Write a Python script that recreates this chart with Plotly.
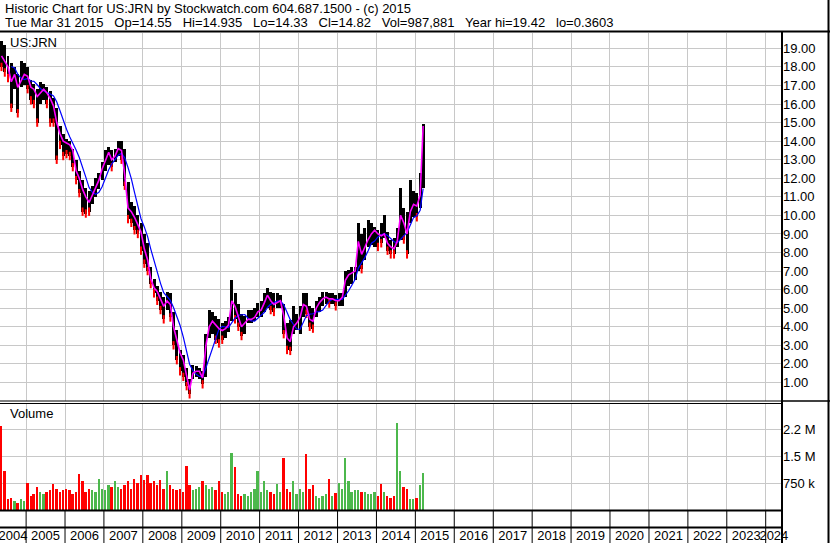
import pandas as pd
import plotly.graph_objects as go

# ---------------- data (monthly, May 2004 .. Mar 2015) ----------------
MONTH_START = "2004-05-01"
MONTH_END = "2015-03-01"

HIGH = [19.42, 19.2, 18.6, 18.2, 18.0, 17.6, 18.3, 18.2,
        18.0, 17.3, 17.1, 16.8, 17.2, 17.1, 16.9, 16.7, 16.3, 15.8, 14.8, 14.4,
        14.1, 14.0, 13.6, 13.0, 12.4, 11.9, 11.5, 11.3, 11.6, 12.0, 12.3, 12.9,
        13.5, 13.7, 13.5, 13.6, 14.0, 14.0, 13.6, 11.8, 10.7, 10.5, 10.0, 9.6,
        9.0, 8.5, 7.2, 6.6, 6.2, 5.9, 5.6, 5.9, 5.8, 4.8, 3.8, 2.75,
        2.5, 1.8, 1.2, 1.95, 1.9, 1.8, 1.6, 3.6, 4.9, 4.8, 4.6, 4.4,
        4.2, 4.3, 4.5, 6.5, 5.8, 5.2, 4.7, 4.6, 4.9, 4.9, 5.0, 5.3,
        5.4, 5.8, 6.1, 5.9, 5.8, 5.8, 5.7, 5.2, 4.2, 4.35, 5.1, 4.7,
        5.1, 5.8, 5.8, 5.1, 5.0, 5.4, 5.6, 5.9, 5.9, 5.8, 5.8, 5.7,
        5.8, 5.8, 7.0, 7.05, 7.2, 7.2, 9.6, 9.0, 9.3, 9.75, 9.6, 9.4,
        9.2, 9.6, 10.0, 9.1, 8.7, 8.8, 9.3, 11.5, 10.4, 10.2, 11.9, 11.3,
        11.2, 12.3, 14.935]

LOW = [18.0, 17.7, 17.4, 15.8, 16.8, 15.5, 16.9, 17.0,
       16.8, 16.2, 16.0, 15.0, 16.0, 16.2, 16.0, 15.0, 15.0, 13.0, 13.8, 13.2,
       13.3, 13.2, 12.6, 11.9, 11.2, 10.2, 10.1, 10.2, 10.6, 11.0, 11.4, 11.9,
       12.4, 12.7, 12.6, 12.9, 13.2, 13.0, 11.6, 9.8, 9.6, 9.2, 9.0, 8.1,
       7.4, 7.0, 6.3, 5.8, 5.4, 4.9, 4.4, 4.9, 4.5, 3.0, 2.2, 1.6,
       1.3, 0.8, 0.36, 1.2, 1.3, 1.2, 0.9, 1.3, 3.4, 3.6, 3.3, 3.1,
       3.3, 3.4, 3.7, 4.3, 4.4, 4.0, 3.5, 3.6, 4.2, 4.2, 4.3, 4.5,
       4.5, 4.8, 5.0, 4.9, 4.8, 5.0, 5.0, 3.6, 2.75, 2.7, 3.6, 3.8,
       3.6, 4.5, 4.7, 4.0, 3.9, 4.5, 4.8, 5.1, 5.2, 5.25, 5.25, 5.1,
       5.1, 5.1, 5.6, 6.2, 6.3, 6.5, 7.0, 7.1, 7.6, 8.3, 8.4, 8.3,
       8.3, 8.5, 8.8, 8.1, 7.9, 7.9, 8.3, 8.7, 8.7, 7.9, 9.6, 9.9,
       9.9, 10.4, 11.5]

CLOSE = [18.6, 18.3, 18.0, 17.2, 17.6, 16.9, 17.3, 17.6,
         17.5, 16.9, 16.8, 16.4, 16.6, 16.8, 16.6, 16.3, 15.9, 15.0, 14.4, 14.0,
         13.9, 13.8, 13.5, 12.4, 12.0, 11.4, 11.0, 10.7, 11.1, 11.5, 11.9, 12.5,
         13.0, 13.4, 13.0, 13.2, 13.6, 13.5, 12.2, 10.4, 10.2, 9.9, 9.5, 9.1,
         8.2, 7.6, 6.6, 6.1, 5.9, 5.5, 5.1, 5.4, 5.2, 4.0, 3.2, 2.6,
         2.2, 1.3, 0.6, 1.5, 1.6, 1.6, 1.25, 3.0, 4.0, 4.3, 4.1, 3.9,
         3.8, 3.9, 4.1, 5.4, 5.1, 4.6, 4.0, 4.2, 4.4, 4.4, 4.5, 4.8,
         4.9, 5.3, 5.7, 5.4, 5.2, 5.3, 5.4, 4.6, 3.4, 3.2, 4.0, 4.2,
         4.5, 5.2, 5.1, 4.4, 4.3, 5.0, 5.3, 5.5, 5.6, 5.5, 5.5, 5.4,
         5.4, 5.6, 6.5, 6.8, 6.9, 7.0, 8.6, 7.9, 8.3, 8.7, 9.0, 9.2,
         9.0, 8.9, 9.0, 8.5, 8.3, 8.2, 8.6, 10.0, 9.6, 9.0, 10.2, 10.6,
         10.5, 11.1, 14.82]

VOLUME_M = [2.36, 1.1, 0.3, 0.35, 0.25, 0.2, 0.3, 0.25,
            0.75, 0.4, 0.45, 0.65, 0.5, 0.45, 0.5, 0.55, 0.72, 0.6, 0.5, 0.55,
            0.6, 0.55, 0.45, 0.5, 1.0, 0.8, 0.5, 0.6, 0.55, 0.5, 0.88, 0.6,
            0.55, 0.7, 0.65, 0.8, 0.65, 0.6, 0.7, 0.8, 0.6, 0.88, 0.75, 0.97,
            0.85, 0.98, 0.75, 0.8, 0.7, 0.85, 0.6, 1.08, 0.7, 0.6, 0.55, 0.6,
            0.5, 1.22, 0.7, 0.55, 0.6, 0.65, 0.8, 0.7, 0.6, 0.65, 0.55, 0.8,
            0.5, 0.45, 0.5, 1.6, 1.2, 0.45, 0.4, 0.45, 0.4, 0.5, 0.6, 1.1,
            0.5, 0.8, 0.55, 0.5, 0.45, 0.72, 0.5, 1.45, 0.6, 0.5, 0.8, 0.45,
            0.6, 0.5, 1.56, 0.6, 0.7, 0.4, 0.35, 0.4, 0.45, 0.87, 0.4, 0.47,
            0.75, 0.6, 1.46, 0.8, 0.5, 0.55, 0.55, 0.5, 0.5, 0.45, 0.45, 0.5,
            0.4, 0.72, 0.5, 0.4, 0.35, 0.4, 2.44, 1.1, 0.65, 0.6, 0.3, 0.3,
            0.35, 0.7, 1.04]

PRICE_TICKS = list(range(1, 20))
PRICE_TICK_TEXT = [f"{v:.2f}" for v in PRICE_TICKS]
VOL_TICKS = [750000, 1500000, 2250000]
VOL_TICK_TEXT = ["750 k", "1.5 M", "2.2 M"]
YEARS = list(range(2004, 2025))

SP = "\u00a0\u00a0 "
HEADER_1 = "Historic Chart for US:JRN by Stockwatch.com 604.687.1500 - (c) 2015"
HEADER_2 = SP.join(["Tue Mar 31 2015", "Op=14.55", "Hi=14.935", "Lo=14.33",
                    "Cl=14.82", "Vol=987,881", "Year hi=19.42", "lo=0.3603"])
SYMBOL = "US:JRN"

# ---------------- derived ----------------
months = pd.date_range(MONTH_START, MONTH_END, freq="MS")
dates = months + pd.Timedelta(days=14)
close_s = pd.Series(CLOSE)
ma_slow = close_s.rolling(5, min_periods=4).mean()
prev_close = close_s.shift(1)
up = [(p == p) and c >= p for c, p in zip(CLOSE, prev_close)]
vol = [v * 1e6 for v in VOLUME_M]
vol_colors = ["#4cb84c" if u else "#ff0000" for u in up]
down_dates = [d for d, u in zip(dates, up) if not u]
down_lows = [l for l, u in zip(LOW, up) if not u]

x_start = pd.Timestamp("2004-05-01")
x_end = pd.Timestamp("2024-06-02")
year_bounds = [pd.Timestamp(f"{y}-01-01") for y in YEARS[1:]]
label_pos = []
for y in YEARS:
    a = max(pd.Timestamp(f"{y}-01-01"), x_start)
    b = min(pd.Timestamp(f"{y + 1}-01-01"), x_end)
    label_pos.append(a + (b - a) / 2)

DAY_MS = 86400000

# ---------------- figure ----------------
W, H = 830, 543
M_L, M_R, M_T, M_B = 0, 48, 33, 33
PH = H - M_T - M_B  # 477


def py(px):  # pixel row -> paper y
    return (H - M_B - px) / PH


def pxx(px):  # pixel column -> paper x
    return (px - M_L) / (W - M_L - M_R)


fig = go.Figure()

fig.add_trace(go.Bar(
    x=dates, y=[h - l for h, l in zip(HIGH, LOW)], base=LOW,
    width=28 * DAY_MS, marker=dict(color="black", line=dict(width=0)),
    xaxis="x", yaxis="y", hoverinfo="skip", showlegend=False))

fig.add_trace(go.Scatter(
    x=down_dates, y=down_lows, mode="markers",
    marker=dict(symbol="line-ns", size=6, line=dict(color="#ff0000", width=2)),
    xaxis="x", yaxis="y", hoverinfo="skip", showlegend=False))

fig.add_trace(go.Scatter(
    x=dates, y=ma_slow, mode="lines", line=dict(color="#0000ff", width=1.2),
    xaxis="x", yaxis="y", hoverinfo="skip", showlegend=False))

fig.add_trace(go.Scatter(
    x=dates, y=CLOSE, mode="lines", line=dict(color="#ff00ff", width=1.6),
    xaxis="x", yaxis="y", hoverinfo="skip", showlegend=False))

fig.add_trace(go.Bar(
    x=dates, y=vol, width=17 * DAY_MS,
    marker=dict(color=vol_colors, line=dict(width=0)),
    xaxis="x", yaxis="y2", hoverinfo="skip", showlegend=False))

GRID = "#c8c8c8"
FONT = "Liberation Sans, Arial, sans-serif"

fig.update_layout(
    width=W, height=H,
    margin=dict(l=M_L, r=M_R, t=M_T, b=M_B, autoexpand=False),
    paper_bgcolor="white", plot_bgcolor="white",
    barmode="overlay", bargap=0,
    font=dict(family=FONT, size=13, color="black"),
    xaxis=dict(
        type="date", range=[x_start, x_end], anchor="y2",
        tickmode="array", tickvals=label_pos, ticktext=[str(y) for y in YEARS],
        ticks="outside", ticklen=13, tickcolor="rgba(0,0,0,0)", tickangle=0,
        ticklabeloverflow="allow",
        showgrid=False, zeroline=False, showline=False,
        tickfont=dict(size=13, color="black"),
        minor=dict(tickmode="array", tickvals=year_bounds, ticks="",
                   showgrid=True, gridcolor=GRID, gridwidth=1),
    ),
    yaxis=dict(
        domain=[py(401), 1], range=[0, (401 - 33) / 18.56], side="right",
        anchor="x", tickmode="array", tickvals=PRICE_TICKS, ticktext=PRICE_TICK_TEXT,
        ticks="", showgrid=True, gridcolor=GRID, gridwidth=1, zeroline=False,
        showline=False, tickfont=dict(size=13, color="black"),
    ),
    yaxis2=dict(
        domain=[0, py(403)], range=[0, 3.0e6], side="right", anchor="x",
        tickmode="array", tickvals=VOL_TICKS, ticktext=VOL_TICK_TEXT,
        ticks="", showgrid=True, gridcolor=GRID, gridwidth=1, zeroline=False,
        showline=False, tickfont=dict(size=13, color="black"),
    ),
)

shapes = []
line_k = dict(color="black", width=2)
# header bottom / chart top
shapes.append(dict(type="line", xref="paper", yref="paper", x0=pxx(0), x1=pxx(W),
                   y0=py(31.5), y1=py(31.5), line=line_k))
# right edge of plot area
shapes.append(dict(type="line", xref="paper", yref="paper", x0=1, x1=1,
                   y0=py(H), y1=py(31), line=line_k))
# outer right border
shapes.append(dict(type="line", xref="paper", yref="paper", x0=pxx(828.5), x1=pxx(828.5),
                   y0=py(H), y1=py(0), line=line_k))
# panel separator (double line)
for yy in (401, 403.5):
    shapes.append(dict(type="line", xref="paper", yref="paper", x0=0, x1=1,
                       y0=py(yy), y1=py(yy), line=dict(color="black", width=1)))
shapes.append(dict(type="line", xref="paper", yref="paper", x0=1, x1=pxx(W),
                   y0=py(401), y1=py(401), line=dict(color="black", width=1.5)))
# bottom of volume panel and label row line
for yy in (510.5, 527.5):
    shapes.append(dict(type="line", xref="paper", yref="paper", x0=0, x1=1,
                       y0=py(yy), y1=py(yy), line=line_k))
# year separators in the two bottom rows
for b in year_bounds:
    shapes.append(dict(type="line", xref="x", yref="paper", x0=b, x1=b,
                       y0=py(510), y1=py(H), line=dict(color="black", width=1)))

fig.update_layout(shapes=shapes)

annotations = [
    dict(text=HEADER_1, xref="paper", yref="paper", x=pxx(3), y=py(8.5),
         xanchor="left", yanchor="middle", showarrow=False, font=dict(size=13)),
    dict(text=HEADER_2, xref="paper", yref="paper", x=pxx(3), y=py(22.5),
         xanchor="left", yanchor="middle", showarrow=False, font=dict(size=13)),
    dict(text=SYMBOL, xref="paper", yref="paper", x=pxx(8), y=py(42),
         xanchor="left", yanchor="middle", showarrow=False, font=dict(size=13)),
    dict(text="Volume", xref="paper", yref="paper", x=pxx(8), y=py(413),
         xanchor="left", yanchor="middle", showarrow=False, font=dict(size=13)),
]
fig.update_layout(annotations=annotations)

fig.write_html(
    "out.html",
    config={"displayModeBar": False},
    post_script="document.body.style.margin='0';document.body.style.overflow='hidden';",
)
